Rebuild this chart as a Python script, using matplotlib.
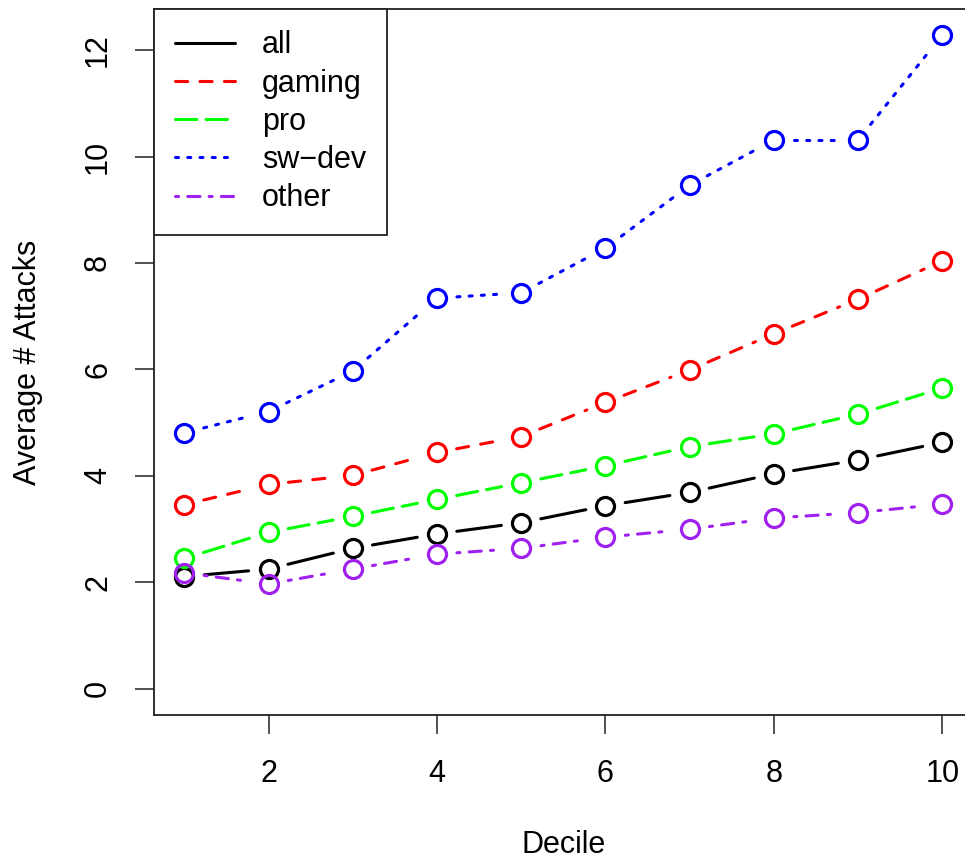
import matplotlib
matplotlib.use("Agg")
import matplotlib.pyplot as plt
from matplotlib.lines import Line2D
import numpy as np

plt.rcParams['font.family'] = ['Liberation Sans', 'DejaVu Sans']

# data
deciles = [1, 2, 3, 4, 5, 6, 7, 8, 9, 10]
all_users = [2.11, 2.25, 2.64, 2.91, 3.12, 3.44, 3.69, 4.04, 4.30, 4.63]
gaming = [3.46, 3.84, 4.01, 4.44, 4.74, 5.38, 5.99, 6.67, 7.32, 8.04]
pro = [2.45, 2.94, 3.24, 3.56, 3.87, 4.19, 4.55, 4.79, 5.16, 5.65]
sw_dev = [4.81, 5.21, 5.97, 7.34, 7.44, 8.28, 9.46, 10.31, 10.31, 12.28]
other = [2.18, 1.97, 2.25, 2.53, 2.64, 2.85, 3.00, 3.21, 3.31, 3.47]

labels = ["all", "gaming", "pro", "sw\u2212dev", "other"]
series = [all_users, gaming, pro, sw_dev, other]
colors = ["black", "red", "#00FF00", "blue", "#A020F0"]
# R line types: solid, dashed, longdash, dotted, dotdash
dashes = [None, (4, 4), (7, 3), (1, 3), (1, 3, 4, 3)]

W, H = 965, 863
fig = plt.figure(figsize=(W / 100, H / 100), dpi=100)
left, right, top, bottom = 154, 972.6, 9, 715
ax = fig.add_axes([left / W, (H - bottom) / H, (right - left) / W, (bottom - top) / H])

ymax = max(max(s) for s in series)
ax.set_xlim(1 - 0.36, 10 + 0.36)
ax.set_ylim(-0.04 * ymax, ymax * 1.04)

lw = 2.2
gap = 20  # pixels left open around each point, like R type="b"
trans = ax.transData
inv = trans.inverted()

for ys, col, ds in zip(series, colors, dashes):
    pts = trans.transform(np.column_stack([deciles, ys]))
    for p0, p1 in zip(pts[:-1], pts[1:]):
        d = p1 - p0
        n = np.hypot(*d)
        if n <= 2 * gap:
            continue
        u = d / n
        a = inv.transform(p0 + u * gap)
        b = inv.transform(p1 - u * gap)
        kw = dict(color=col, lw=lw, solid_capstyle='round', dash_capstyle='round')
        if ds is not None:
            kw['dashes'] = ds
        ax.plot([a[0], b[0]], [a[1], b[1]], **kw)
    ax.plot(deciles, ys, linestyle='none', marker='o', markersize=13,
            markerfacecolor='none', markeredgecolor=col, markeredgewidth=2.3)

fs = 22
ax.set_xticks([2, 4, 6, 8, 10])
ax.set_yticks([0, 2, 4, 6, 8, 10, 12])
ax.tick_params(axis='both', direction='out', length=13.5, width=1.1, labelsize=fs,
               color='#222222')
ax.tick_params(axis='x', pad=18)
ax.tick_params(axis='y', pad=16, labelrotation=90)
for t in ax.get_yticklabels():
    t.set_va('center')
for s in ax.spines.values():
    s.set_linewidth(1.3)
    s.set_color('#222222')

ax.set_xlabel("Decile", fontsize=fs, labelpad=30)
ax.set_ylabel("Average # Attacks", fontsize=fs, labelpad=29)

handles = []
for lab, col, ds in zip(labels, colors, dashes):
    kw = dict(color=col, lw=lw, dash_capstyle='round', solid_capstyle='round')
    if ds is not None:
        kw['dashes'] = ds
    handles.append(Line2D([], [], label=lab, **kw))
leg = ax.legend(handles=handles, loc='upper left', bbox_to_anchor=(0, 1),
                borderaxespad=0, fontsize=fs, fancybox=False, framealpha=1,
                edgecolor='#222222', handlelength=1.95, handletextpad=0.88,
                labelspacing=0.27, borderpad=0.7)
leg.get_frame().set_linewidth(1.3)

fig.savefig("out.png", dpi=100)
